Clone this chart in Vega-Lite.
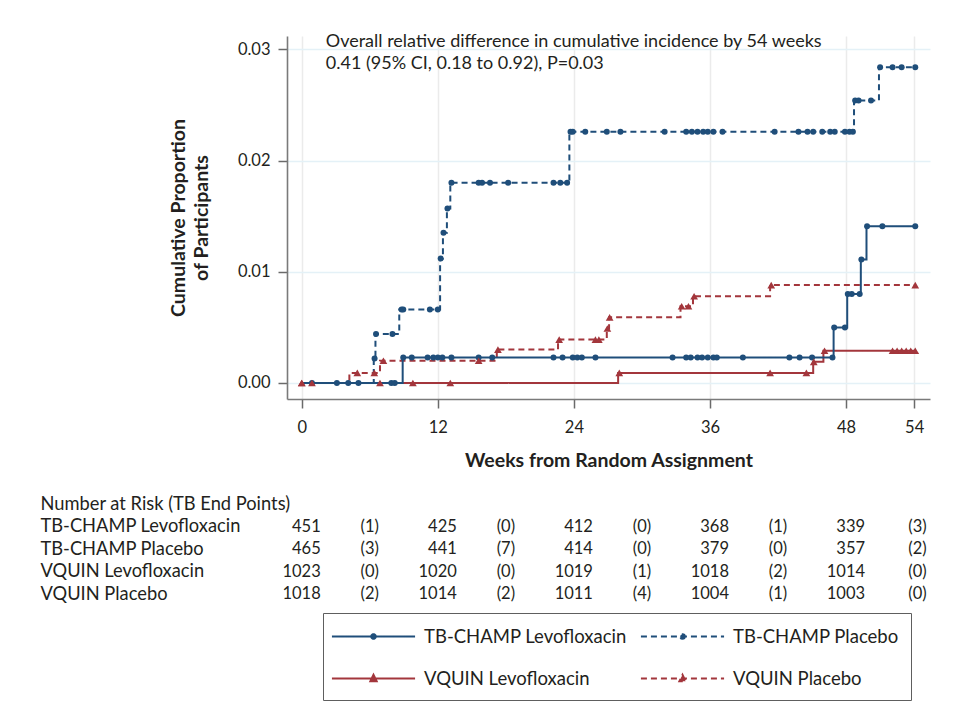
{
  "$schema": "https://vega.github.io/schema/vega-lite/v6.json",
  "padding": {"left": 40, "top": 33, "right": 5, "bottom": 5},
  "background": "white",
  "config": {
    "font": "Lato",
    "view": {"stroke": null},
    "axis": {
      "domainColor": "#7a7a7a", "domainWidth": 1.6,
      "tickColor": "#6a6a6a", "tickWidth": 1.5, "tickSize": 9,
      "labelFontSize": 16.5, "labelColor": "#231f20",
      "titleFontSize": 19.5, "titleColor": "#231f20", "titleFontWeight": "bold"
    },
    "text": {"fontSize": 16.5, "color": "#231f20"}
  },
  "datasets": {
    "km": [
      {"s": "VQUIN Placebo", "w": 0, "p": 0, "c": 1},
      {"s": "VQUIN Placebo", "w": 0.9, "p": 0, "c": 1},
      {"s": "VQUIN Placebo", "w": 4.2, "p": 0.0009, "c": 0},
      {"s": "VQUIN Placebo", "w": 4.9, "p": 0.0009, "c": 1},
      {"s": "VQUIN Placebo", "w": 6.4, "p": 0.0009, "c": 1},
      {"s": "VQUIN Placebo", "w": 6.9, "p": 0.002, "c": 0},
      {"s": "VQUIN Placebo", "w": 7.2, "p": 0.002, "c": 1},
      {"s": "VQUIN Placebo", "w": 15.6, "p": 0.002, "c": 1},
      {"s": "VQUIN Placebo", "w": 17.2, "p": 0.003, "c": 0},
      {"s": "VQUIN Placebo", "w": 17.3, "p": 0.003, "c": 1},
      {"s": "VQUIN Placebo", "w": 22.6, "p": 0.0039, "c": 0},
      {"s": "VQUIN Placebo", "w": 22.7, "p": 0.0039, "c": 1},
      {"s": "VQUIN Placebo", "w": 25.9, "p": 0.0039, "c": 1},
      {"s": "VQUIN Placebo", "w": 26.2, "p": 0.0039, "c": 1},
      {"s": "VQUIN Placebo", "w": 26.9, "p": 0.0049, "c": 0},
      {"s": "VQUIN Placebo", "w": 26.95, "p": 0.0049, "c": 1},
      {"s": "VQUIN Placebo", "w": 27.1, "p": 0.0059, "c": 0},
      {"s": "VQUIN Placebo", "w": 27.15, "p": 0.0059, "c": 1},
      {"s": "VQUIN Placebo", "w": 33.4, "p": 0.0069, "c": 0},
      {"s": "VQUIN Placebo", "w": 33.5, "p": 0.0069, "c": 1},
      {"s": "VQUIN Placebo", "w": 34.1, "p": 0.0069, "c": 1},
      {"s": "VQUIN Placebo", "w": 34.5, "p": 0.0078, "c": 0},
      {"s": "VQUIN Placebo", "w": 34.6, "p": 0.0078, "c": 1},
      {"s": "VQUIN Placebo", "w": 41.3, "p": 0.0088, "c": 0},
      {"s": "VQUIN Placebo", "w": 41.4, "p": 0.0088, "c": 1},
      {"s": "VQUIN Placebo", "w": 54.1, "p": 0.0088, "c": 1},

      {"s": "VQUIN Levofloxacin", "w": 0, "p": 0, "c": 1},
      {"s": "VQUIN Levofloxacin", "w": 6.9, "p": 0, "c": 1},
      {"s": "VQUIN Levofloxacin", "w": 9.8, "p": 0, "c": 1},
      {"s": "VQUIN Levofloxacin", "w": 13.1, "p": 0, "c": 1},
      {"s": "VQUIN Levofloxacin", "w": 27.9, "p": 0.0009, "c": 0},
      {"s": "VQUIN Levofloxacin", "w": 28.0, "p": 0.0009, "c": 1},
      {"s": "VQUIN Levofloxacin", "w": 41.3, "p": 0.0009, "c": 1},
      {"s": "VQUIN Levofloxacin", "w": 44.5, "p": 0.0009, "c": 1},
      {"s": "VQUIN Levofloxacin", "w": 45.1, "p": 0.0019, "c": 0},
      {"s": "VQUIN Levofloxacin", "w": 45.15, "p": 0.0019, "c": 1},
      {"s": "VQUIN Levofloxacin", "w": 46.0, "p": 0.0029, "c": 0},
      {"s": "VQUIN Levofloxacin", "w": 46.1, "p": 0.0029, "c": 1},
      {"s": "VQUIN Levofloxacin", "w": 52.1, "p": 0.0029, "c": 1},
      {"s": "VQUIN Levofloxacin", "w": 52.5, "p": 0.0029, "c": 1},
      {"s": "VQUIN Levofloxacin", "w": 52.9, "p": 0.0029, "c": 1},
      {"s": "VQUIN Levofloxacin", "w": 53.3, "p": 0.0029, "c": 1},
      {"s": "VQUIN Levofloxacin", "w": 53.7, "p": 0.0029, "c": 1},
      {"s": "VQUIN Levofloxacin", "w": 54.1, "p": 0.0029, "c": 1},

      {"s": "TB-CHAMP Placebo", "w": 0, "p": 0, "c": 0},
      {"s": "TB-CHAMP Placebo", "w": 0.9, "p": 0, "c": 1},
      {"s": "TB-CHAMP Placebo", "w": 4.1, "p": 0, "c": 1},
      {"s": "TB-CHAMP Placebo", "w": 6.35, "p": 0.0022, "c": 0},
      {"s": "TB-CHAMP Placebo", "w": 6.42, "p": 0.0022, "c": 1},
      {"s": "TB-CHAMP Placebo", "w": 6.5, "p": 0.0044, "c": 0},
      {"s": "TB-CHAMP Placebo", "w": 6.55, "p": 0.0044, "c": 1},
      {"s": "TB-CHAMP Placebo", "w": 8.0, "p": 0.0044, "c": 1},
      {"s": "TB-CHAMP Placebo", "w": 8.6, "p": 0.0066, "c": 0},
      {"s": "TB-CHAMP Placebo", "w": 8.8, "p": 0.0066, "c": 1},
      {"s": "TB-CHAMP Placebo", "w": 8.95, "p": 0.0066, "c": 1},
      {"s": "TB-CHAMP Placebo", "w": 11.3, "p": 0.0066, "c": 1},
      {"s": "TB-CHAMP Placebo", "w": 12.0, "p": 0.0066, "c": 1},
      {"s": "TB-CHAMP Placebo", "w": 12.2, "p": 0.0112, "c": 0},
      {"s": "TB-CHAMP Placebo", "w": 12.25, "p": 0.0112, "c": 1},
      {"s": "TB-CHAMP Placebo", "w": 12.45, "p": 0.0135, "c": 0},
      {"s": "TB-CHAMP Placebo", "w": 12.5, "p": 0.0135, "c": 1},
      {"s": "TB-CHAMP Placebo", "w": 12.8, "p": 0.0157, "c": 0},
      {"s": "TB-CHAMP Placebo", "w": 12.85, "p": 0.0157, "c": 1},
      {"s": "TB-CHAMP Placebo", "w": 13.1, "p": 0.018, "c": 0},
      {"s": "TB-CHAMP Placebo", "w": 13.2, "p": 0.018, "c": 1},
      {"s": "TB-CHAMP Placebo", "w": 15.6, "p": 0.018, "c": 1},
      {"s": "TB-CHAMP Placebo", "w": 15.9, "p": 0.018, "c": 1},
      {"s": "TB-CHAMP Placebo", "w": 16.6, "p": 0.018, "c": 1},
      {"s": "TB-CHAMP Placebo", "w": 18.2, "p": 0.018, "c": 1},
      {"s": "TB-CHAMP Placebo", "w": 22.2, "p": 0.018, "c": 1},
      {"s": "TB-CHAMP Placebo", "w": 22.8, "p": 0.018, "c": 1},
      {"s": "TB-CHAMP Placebo", "w": 23.4, "p": 0.018, "c": 1},
      {"s": "TB-CHAMP Placebo", "w": 23.6, "p": 0.0226, "c": 0},
      {"s": "TB-CHAMP Placebo", "w": 23.7, "p": 0.0226, "c": 1},
      {"s": "TB-CHAMP Placebo", "w": 23.9, "p": 0.0226, "c": 1},
      {"s": "TB-CHAMP Placebo", "w": 25.0, "p": 0.0226, "c": 1},
      {"s": "TB-CHAMP Placebo", "w": 26.9, "p": 0.0226, "c": 1},
      {"s": "TB-CHAMP Placebo", "w": 28.1, "p": 0.0226, "c": 1},
      {"s": "TB-CHAMP Placebo", "w": 32.0, "p": 0.0226, "c": 1},
      {"s": "TB-CHAMP Placebo", "w": 33.9, "p": 0.0226, "c": 1},
      {"s": "TB-CHAMP Placebo", "w": 34.4, "p": 0.0226, "c": 1},
      {"s": "TB-CHAMP Placebo", "w": 34.9, "p": 0.0226, "c": 1},
      {"s": "TB-CHAMP Placebo", "w": 35.4, "p": 0.0226, "c": 1},
      {"s": "TB-CHAMP Placebo", "w": 35.8, "p": 0.0226, "c": 1},
      {"s": "TB-CHAMP Placebo", "w": 36.3, "p": 0.0226, "c": 1},
      {"s": "TB-CHAMP Placebo", "w": 37.1, "p": 0.0226, "c": 1},
      {"s": "TB-CHAMP Placebo", "w": 41.7, "p": 0.0226, "c": 1},
      {"s": "TB-CHAMP Placebo", "w": 43.8, "p": 0.0226, "c": 1},
      {"s": "TB-CHAMP Placebo", "w": 44.6, "p": 0.0226, "c": 1},
      {"s": "TB-CHAMP Placebo", "w": 45.1, "p": 0.0226, "c": 1},
      {"s": "TB-CHAMP Placebo", "w": 45.9, "p": 0.0226, "c": 1},
      {"s": "TB-CHAMP Placebo", "w": 46.6, "p": 0.0226, "c": 1},
      {"s": "TB-CHAMP Placebo", "w": 47.0, "p": 0.0226, "c": 1},
      {"s": "TB-CHAMP Placebo", "w": 47.9, "p": 0.0226, "c": 1},
      {"s": "TB-CHAMP Placebo", "w": 48.3, "p": 0.0226, "c": 1},
      {"s": "TB-CHAMP Placebo", "w": 48.6, "p": 0.0226, "c": 1},
      {"s": "TB-CHAMP Placebo", "w": 48.7, "p": 0.0254, "c": 0},
      {"s": "TB-CHAMP Placebo", "w": 48.8, "p": 0.0254, "c": 1},
      {"s": "TB-CHAMP Placebo", "w": 49.1, "p": 0.0254, "c": 1},
      {"s": "TB-CHAMP Placebo", "w": 50.2, "p": 0.0254, "c": 1},
      {"s": "TB-CHAMP Placebo", "w": 50.9, "p": 0.0284, "c": 0},
      {"s": "TB-CHAMP Placebo", "w": 51.0, "p": 0.0284, "c": 1},
      {"s": "TB-CHAMP Placebo", "w": 52.1, "p": 0.0284, "c": 1},
      {"s": "TB-CHAMP Placebo", "w": 52.9, "p": 0.0284, "c": 1},
      {"s": "TB-CHAMP Placebo", "w": 54.1, "p": 0.0284, "c": 1},

      {"s": "TB-CHAMP Levofloxacin", "w": 0, "p": 0, "c": 0},
      {"s": "TB-CHAMP Levofloxacin", "w": 3.1, "p": 0, "c": 1},
      {"s": "TB-CHAMP Levofloxacin", "w": 5.0, "p": 0, "c": 1},
      {"s": "TB-CHAMP Levofloxacin", "w": 7.9, "p": 0, "c": 1},
      {"s": "TB-CHAMP Levofloxacin", "w": 8.2, "p": 0, "c": 1},
      {"s": "TB-CHAMP Levofloxacin", "w": 8.9, "p": 0.0023, "c": 0},
      {"s": "TB-CHAMP Levofloxacin", "w": 8.95, "p": 0.0023, "c": 1},
      {"s": "TB-CHAMP Levofloxacin", "w": 9.7, "p": 0.0023, "c": 1},
      {"s": "TB-CHAMP Levofloxacin", "w": 11.1, "p": 0.0023, "c": 1},
      {"s": "TB-CHAMP Levofloxacin", "w": 11.6, "p": 0.0023, "c": 1},
      {"s": "TB-CHAMP Levofloxacin", "w": 12.0, "p": 0.0023, "c": 1},
      {"s": "TB-CHAMP Levofloxacin", "w": 12.4, "p": 0.0023, "c": 1},
      {"s": "TB-CHAMP Levofloxacin", "w": 13.2, "p": 0.0023, "c": 1},
      {"s": "TB-CHAMP Levofloxacin", "w": 15.6, "p": 0.0023, "c": 1},
      {"s": "TB-CHAMP Levofloxacin", "w": 16.8, "p": 0.0023, "c": 1},
      {"s": "TB-CHAMP Levofloxacin", "w": 22.2, "p": 0.0023, "c": 1},
      {"s": "TB-CHAMP Levofloxacin", "w": 23.0, "p": 0.0023, "c": 1},
      {"s": "TB-CHAMP Levofloxacin", "w": 23.9, "p": 0.0023, "c": 1},
      {"s": "TB-CHAMP Levofloxacin", "w": 24.3, "p": 0.0023, "c": 1},
      {"s": "TB-CHAMP Levofloxacin", "w": 24.7, "p": 0.0023, "c": 1},
      {"s": "TB-CHAMP Levofloxacin", "w": 25.9, "p": 0.0023, "c": 1},
      {"s": "TB-CHAMP Levofloxacin", "w": 32.7, "p": 0.0023, "c": 1},
      {"s": "TB-CHAMP Levofloxacin", "w": 33.9, "p": 0.0023, "c": 1},
      {"s": "TB-CHAMP Levofloxacin", "w": 34.3, "p": 0.0023, "c": 1},
      {"s": "TB-CHAMP Levofloxacin", "w": 34.9, "p": 0.0023, "c": 1},
      {"s": "TB-CHAMP Levofloxacin", "w": 35.3, "p": 0.0023, "c": 1},
      {"s": "TB-CHAMP Levofloxacin", "w": 35.8, "p": 0.0023, "c": 1},
      {"s": "TB-CHAMP Levofloxacin", "w": 36.3, "p": 0.0023, "c": 1},
      {"s": "TB-CHAMP Levofloxacin", "w": 36.6, "p": 0.0023, "c": 1},
      {"s": "TB-CHAMP Levofloxacin", "w": 38.9, "p": 0.0023, "c": 1},
      {"s": "TB-CHAMP Levofloxacin", "w": 43.0, "p": 0.0023, "c": 1},
      {"s": "TB-CHAMP Levofloxacin", "w": 43.9, "p": 0.0023, "c": 1},
      {"s": "TB-CHAMP Levofloxacin", "w": 45.0, "p": 0.0023, "c": 1},
      {"s": "TB-CHAMP Levofloxacin", "w": 46.8, "p": 0.0023, "c": 1},
      {"s": "TB-CHAMP Levofloxacin", "w": 46.9, "p": 0.005, "c": 0},
      {"s": "TB-CHAMP Levofloxacin", "w": 46.95, "p": 0.005, "c": 1},
      {"s": "TB-CHAMP Levofloxacin", "w": 47.9, "p": 0.005, "c": 1},
      {"s": "TB-CHAMP Levofloxacin", "w": 48.1, "p": 0.008, "c": 0},
      {"s": "TB-CHAMP Levofloxacin", "w": 48.15, "p": 0.008, "c": 1},
      {"s": "TB-CHAMP Levofloxacin", "w": 48.5, "p": 0.008, "c": 1},
      {"s": "TB-CHAMP Levofloxacin", "w": 49.2, "p": 0.008, "c": 1},
      {"s": "TB-CHAMP Levofloxacin", "w": 49.3, "p": 0.0111, "c": 0},
      {"s": "TB-CHAMP Levofloxacin", "w": 49.35, "p": 0.0111, "c": 1},
      {"s": "TB-CHAMP Levofloxacin", "w": 49.8, "p": 0.0141, "c": 0},
      {"s": "TB-CHAMP Levofloxacin", "w": 49.85, "p": 0.0141, "c": 1},
      {"s": "TB-CHAMP Levofloxacin", "w": 51.2, "p": 0.0141, "c": 1},
      {"s": "TB-CHAMP Levofloxacin", "w": 54.1, "p": 0.0141, "c": 1}
    ],
    "risk": [
      {"g": "TB-CHAMP Levofloxacin", "wk": 0, "t": "451", "k": "n"},
      {"g": "TB-CHAMP Levofloxacin", "wk": 6, "t": "(1)", "k": "e"},
      {"g": "TB-CHAMP Levofloxacin", "wk": 12, "t": "425", "k": "n"},
      {"g": "TB-CHAMP Levofloxacin", "wk": 18, "t": "(0)", "k": "e"},
      {"g": "TB-CHAMP Levofloxacin", "wk": 24, "t": "412", "k": "n"},
      {"g": "TB-CHAMP Levofloxacin", "wk": 30, "t": "(0)", "k": "e"},
      {"g": "TB-CHAMP Levofloxacin", "wk": 36, "t": "368", "k": "n"},
      {"g": "TB-CHAMP Levofloxacin", "wk": 42, "t": "(1)", "k": "e"},
      {"g": "TB-CHAMP Levofloxacin", "wk": 48, "t": "339", "k": "n"},
      {"g": "TB-CHAMP Levofloxacin", "wk": 54.3, "t": "(3)", "k": "e"},
      {"g": "TB-CHAMP Placebo", "wk": 0, "t": "465", "k": "n"},
      {"g": "TB-CHAMP Placebo", "wk": 6, "t": "(3)", "k": "e"},
      {"g": "TB-CHAMP Placebo", "wk": 12, "t": "441", "k": "n"},
      {"g": "TB-CHAMP Placebo", "wk": 18, "t": "(7)", "k": "e"},
      {"g": "TB-CHAMP Placebo", "wk": 24, "t": "414", "k": "n"},
      {"g": "TB-CHAMP Placebo", "wk": 30, "t": "(0)", "k": "e"},
      {"g": "TB-CHAMP Placebo", "wk": 36, "t": "379", "k": "n"},
      {"g": "TB-CHAMP Placebo", "wk": 42, "t": "(0)", "k": "e"},
      {"g": "TB-CHAMP Placebo", "wk": 48, "t": "357", "k": "n"},
      {"g": "TB-CHAMP Placebo", "wk": 54.3, "t": "(2)", "k": "e"},
      {"g": "VQUIN Levofloxacin", "wk": 0, "t": "1023", "k": "n"},
      {"g": "VQUIN Levofloxacin", "wk": 6, "t": "(0)", "k": "e"},
      {"g": "VQUIN Levofloxacin", "wk": 12, "t": "1020", "k": "n"},
      {"g": "VQUIN Levofloxacin", "wk": 18, "t": "(0)", "k": "e"},
      {"g": "VQUIN Levofloxacin", "wk": 24, "t": "1019", "k": "n"},
      {"g": "VQUIN Levofloxacin", "wk": 30, "t": "(1)", "k": "e"},
      {"g": "VQUIN Levofloxacin", "wk": 36, "t": "1018", "k": "n"},
      {"g": "VQUIN Levofloxacin", "wk": 42, "t": "(2)", "k": "e"},
      {"g": "VQUIN Levofloxacin", "wk": 48, "t": "1014", "k": "n"},
      {"g": "VQUIN Levofloxacin", "wk": 54.3, "t": "(0)", "k": "e"},
      {"g": "VQUIN Placebo", "wk": 0, "t": "1018", "k": "n"},
      {"g": "VQUIN Placebo", "wk": 6, "t": "(2)", "k": "e"},
      {"g": "VQUIN Placebo", "wk": 12, "t": "1014", "k": "n"},
      {"g": "VQUIN Placebo", "wk": 18, "t": "(2)", "k": "e"},
      {"g": "VQUIN Placebo", "wk": 24, "t": "1011", "k": "n"},
      {"g": "VQUIN Placebo", "wk": 30, "t": "(4)", "k": "e"},
      {"g": "VQUIN Placebo", "wk": 36, "t": "1004", "k": "n"},
      {"g": "VQUIN Placebo", "wk": 42, "t": "(1)", "k": "e"},
      {"g": "VQUIN Placebo", "wk": 48, "t": "1003", "k": "n"},
      {"g": "VQUIN Placebo", "wk": 54.3, "t": "(0)", "k": "e"}
    ],
    "notes": [
      {"line": "Overall relative difference in cumulative incidence by 54 weeks", "wk": 2.12, "y": 0.03066},
      {"line": "0.41 (95% CI, 0.18 to 0.92), P=0.03", "wk": 2.12, "y": 0.02868}
    ]
  },
  "spacing": 23,
  "vconcat": [
    {
      "width": 643,
      "height": 363,
      "layer": [
        {
          "data": {"name": "km"},
          "mark": {"type": "line", "interpolate": "step-after", "strokeWidth": 2},
          "encoding": {
            "x": {
              "field": "w", "type": "quantitative",
              "scale": {"domain": [-1.3, 55.4], "nice": false, "zero": false},
              "axis": {
                "values": [0, 12, 24, 36, 48, 54],
                "title": "Weeks from Random Assignment",
                "labelPadding": 11, "titlePadding": 16,
                "grid": true, "gridColor": "#ebebeb", "gridWidth": 1.5
              }
            },
            "y": {
              "field": "p", "type": "quantitative",
              "scale": {"domain": [-0.00144, 0.0312], "nice": false, "zero": false},
              "axis": {
                "values": [0, 0.01, 0.02, 0.03], "format": ".2f",
                "title": ["Cumulative Proportion", "of Participants"],
                "titleLineHeight": 23, "titlePadding": 26, "labelPadding": 8,
                "grid": true, "gridColor": "#e4f1f7", "gridWidth": 1.5
              }
            },
            "color": {"field": "s", "type": "nominal"},
            "strokeDash": {"field": "s", "type": "nominal"}
          }
        },
        {
          "data": {"name": "km"},
          "transform": [{"filter": "datum.c == 1 && indexof(datum.s, 'TB-CHAMP') == 0"}],
          "mark": {"type": "point", "shape": "circle", "filled": true, "size": 36, "opacity": 1},
          "encoding": {
            "x": {"field": "w", "type": "quantitative"},
            "y": {"field": "p", "type": "quantitative"},
            "color": {"field": "s", "type": "nominal"}
          }
        },
        {
          "data": {"name": "km"},
          "transform": [{"filter": "datum.c == 1 && indexof(datum.s, 'VQUIN') == 0"}],
          "mark": {"type": "point", "shape": "triangle-up", "filled": true, "size": 60, "opacity": 1},
          "encoding": {
            "x": {"field": "w", "type": "quantitative"},
            "y": {"field": "p", "type": "quantitative"},
            "color": {"field": "s", "type": "nominal"}
          }
        },
        {
          "data": {"name": "km"},
          "mark": {"type": "point", "filled": true, "opacity": 0},
          "encoding": {
            "x": {"field": "w", "type": "quantitative"},
            "y": {"field": "p", "type": "quantitative"},
            "color": {
              "field": "s", "type": "nominal",
              "scale": {
                "domain": ["TB-CHAMP Levofloxacin", "TB-CHAMP Placebo", "VQUIN Levofloxacin", "VQUIN Placebo"],
                "range": ["#1f4e7a", "#1f4e7a", "#a3363c", "#a3363c"]
              },
              "legend": {
                "title": null, "orient": "none", "legendX": 36, "legendY": 577,
                "direction": "horizontal", "columns": 2, "gridAlign": "each",
                "padding": 12, "strokeColor": "#5e5e5e", "fillColor": "white",
                "symbolSize": 432, "symbolStrokeWidth": 2, "symbolOffset": 27,
                "labelOffset": 39, "columnPadding": 9, "rowPadding": 21,
                "labelFontSize": 18.5, "labelColor": "#231f20", "labelLimit": 400,
                "encode": {
                  "symbols": {
                    "update": {
                      "fill": {"scale": "color", "field": "value"},
                      "stroke": {"scale": "color", "field": "value"},
                      "opacity": {"value": 1}
                    }
                  }
                }
              }
            },
            "strokeDash": {
              "field": "s", "type": "nominal",
              "scale": {
                "domain": ["TB-CHAMP Levofloxacin", "TB-CHAMP Placebo", "VQUIN Levofloxacin", "VQUIN Placebo"],
                "range": [[1, 0], [6, 4], [1, 0], [6, 4]]
              },
              "legend": {"title": null}
            },
            "shape": {
              "field": "s", "type": "nominal",
              "scale": {
                "domain": ["TB-CHAMP Levofloxacin", "TB-CHAMP Placebo", "VQUIN Levofloxacin", "VQUIN Placebo"],
                "range": [
                  "M-4,0H4M0.22,0A0.22,0.22,0,1,1,-0.22,0A0.22,0.22,0,1,1,0.22,0Z",
                  "M-4,0H4M0.22,0A0.22,0.22,0,1,1,-0.22,0A0.22,0.22,0,1,1,0.22,0Z",
                  "M-4,0H4M0,-0.36L0.3,0.26L-0.3,0.26Z",
                  "M-4,0H4M0,-0.36L0.3,0.26L-0.3,0.26Z"
                ]
              },
              "legend": {"title": null}
            }
          }
        },
        {
          "data": {"name": "notes"},
          "mark": {"type": "text", "align": "left", "baseline": "middle", "fontSize": 18},
          "encoding": {
            "x": {"field": "wk", "type": "quantitative"},
            "y": {"field": "y", "type": "quantitative"},
            "text": {"field": "line", "type": "nominal"}
          }
        }
      ]
    },
    {
      "width": 643,
      "height": 112.5,
      "data": {"name": "risk"},
      "encoding": {
        "x": {
          "field": "wk", "type": "quantitative",
          "scale": {"domain": [-1.3, 55.4], "nice": false, "zero": false},
          "axis": null
        },
        "y": {
          "field": "g", "type": "nominal",
          "scale": {
            "domain": ["Number at Risk (TB End Points)", "TB-CHAMP Levofloxacin", "TB-CHAMP Placebo", "VQUIN Levofloxacin", "VQUIN Placebo"],
            "paddingInner": 0, "paddingOuter": 0
          },
          "axis": {
            "title": null, "domain": false, "ticks": false, "grid": false,
            "labelAlign": "left", "labelPadding": 247, "labelFontSize": 18.3,
            "labelLimit": 400
          }
        },
        "text": {"field": "t", "type": "nominal"}
      },
      "layer": [
        {
          "transform": [{"filter": "datum.k == 'n'"}],
          "mark": {"type": "text", "align": "right", "baseline": "middle", "dx": 19}
        },
        {
          "transform": [{"filter": "datum.k == 'e'"}],
          "mark": {"type": "text", "align": "center", "baseline": "middle"}
        }
      ]
    }
  ]
}
